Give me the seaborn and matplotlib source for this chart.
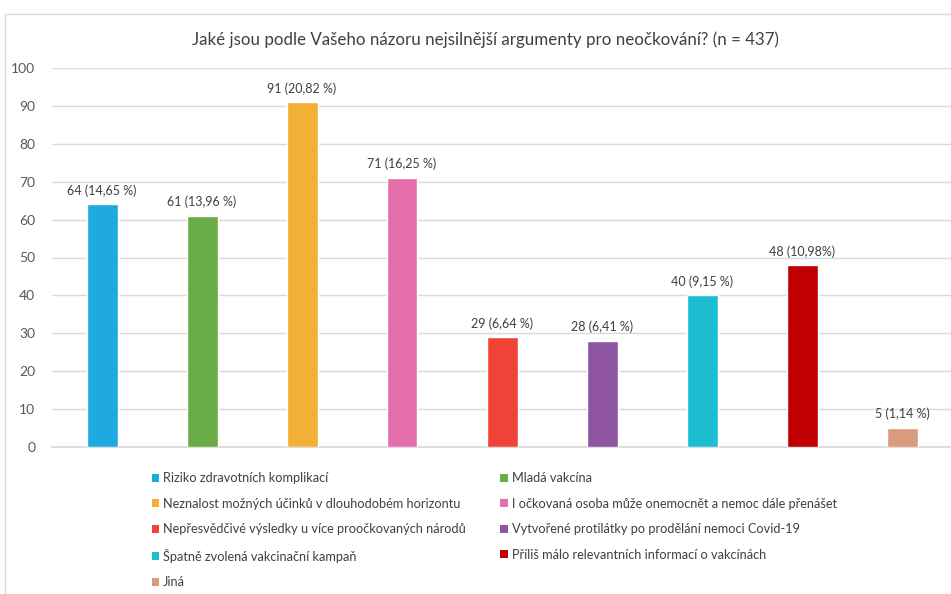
import matplotlib
matplotlib.use("Agg")
import matplotlib.pyplot as plt
import seaborn as sns
import pandas as pd
from matplotlib.patches import Rectangle, Patch

# data
categories = [
    "Riziko zdravotních komplikací",
    "Mladá vakcína",
    "Neznalost možných účinků v dlouhodobém horizontu",
    "I očkovaná osoba může onemocnět a nemoc dále přenášet",
    "Nepřesvědčivé výsledky u více proočkovaných národů",
    "Vytvořené protilátky po prodělání nemoci Covid-19",
    "Špatně zvolená vakcinační kampaň",
    "Příliš málo relevantních informací o vakcínách",
    "Jiná",
]
counts = [64, 61, 91, 71, 29, 28, 40, 48, 5]
labels = ["64 (14,65 %)", "61 (13,96 %)", "91 (20,82 %)", "71 (16,25 %)",
          "29 (6,64 %)", "28 (6,41 %)", "40 (9,15 %)", "48 (10,98%)", "5 (1,14 %)"]
colors = ["#1fa9e1", "#6aac46", "#f2b134", "#e66fab", "#ef4338",
          "#8f55a3", "#1cbfcf", "#c00000", "#d99a7d"]

df = pd.DataFrame({"cat": categories, "n": counts})

sns.set_theme(style="white")
plt.rcParams["font.family"] = ["Lato", "DejaVu Sans"]

fig = plt.figure(figsize=(9.51, 5.94), dpi=100)
ax = fig.add_axes([52 / 951, 1 - 447 / 594, 900 / 951, 379 / 594])

# chart border like the Excel frame
fig.patches.append(Rectangle((5 / 951, -0.1), 1.2, 1 - 14 / 594 + 0.1,
                             transform=fig.transFigure, fill=False,
                             edgecolor="#d9d9d9", linewidth=1))

sns.barplot(data=df, x="cat", y="n", hue="cat", palette=colors, saturation=1,
            width=0.31, legend=False, ax=ax, zorder=3)

for i, (v, t) in enumerate(zip(counts, labels)):
    ax.text(i, v + 2, t, ha="center", va="bottom", fontsize=9, color="#404040")

ax.set_ylim(0, 100)
ax.set_xlim(-0.5, 8.5)
ax.set_yticks(range(0, 101, 10))
ax.yaxis.grid(True, color="#d9d9d9", linewidth=1, zorder=0)
ax.set_axisbelow(True)
ax.set_xticks([])
ax.set_xlabel("")
ax.set_ylabel("")
for s in ax.spines.values():
    s.set_visible(False)
ax.spines["bottom"].set_visible(True)
ax.spines["bottom"].set_color("#d9d9d9")
ax.tick_params(axis="y", length=0, labelsize=10, labelcolor="#595959", pad=12)

fig.text(485 / 951, 1 - 40 / 594,
         "Jaké jsou podle Vašeho názoru nejsilnější argumenty pro neočkování? (n = 437)",
         ha="center", va="center", fontsize=12.2, color="#404040")

# legend filled row by row, as in Excel
order = [0, 2, 4, 6, 8, 1, 3, 5, 7]
handles = [Patch(facecolor=colors[k], edgecolor="none") for k in order]
fig.legend(handles, [categories[k] for k in order], ncol=2, loc="upper left",
           bbox_to_anchor=(140 / 951, 1 - 461 / 594), frameon=False,
           fontsize=9.2, labelcolor="#404040", handlelength=0.6, handleheight=0.6,
           handletextpad=0.3, columnspacing=2.7, labelspacing=1.05)

fig.savefig("out.png", dpi=100)
